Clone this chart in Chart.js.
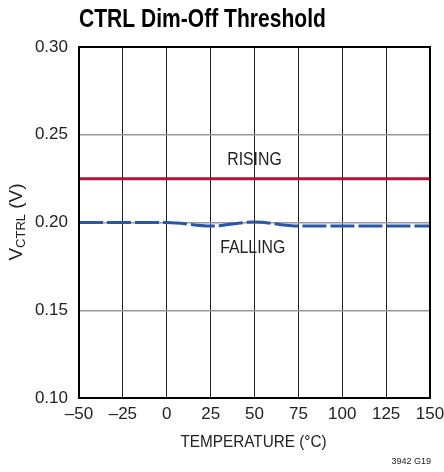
<!DOCTYPE html>
<html>
<head>
<meta charset="utf-8">
<script src="https://cdn.jsdelivr.net/npm/chart.js@4"></script>
<style>
  html, body { margin: 0; padding: 0; background: #fff; }
  #wrap { width: 444px; height: 472px; position: relative; }
</style>
</head>
<body>
<div id="wrap"><canvas id="myChart" width="444" height="472"></canvas></div>
<script>
// temperatures (°C) and thresholds (V)
const temps = [-50, -25, 0, 25, 50, 75, 100, 125, 150];
const rising = [0.225, 0.225, 0.225, 0.225, 0.225, 0.225, 0.225, 0.225, 0.225];
const falling = [0.200, 0.200, 0.200, 0.198, 0.2003, 0.198, 0.198, 0.198, 0.198];
const xTicks = [-50, -25, 0, 25, 50, 75, 100, 125, 150];
const yTicks = [0.10, 0.15, 0.20, 0.25, 0.30];

const FONT = "'Liberation Sans', Arial, sans-serif";

const toPts = (ys) => temps.map((t, i) => ({x: t, y: ys[i]}));

// text squeezed horizontally to look like the condensed face of the original
function narrowText(ctx, text, x, y, font, sx) {
    ctx.save();
    ctx.font = font;
    ctx.translate(x, y);
    ctx.scale(sx, 1);
    ctx.fillText(text, 0, 0);
    ctx.restore();
}

// draws title, axis titles, curve labels and the frame
const extras = {
    id: 'extras',
    afterDraw(chart) {
        const ctx = chart.ctx;
        const a = chart.chartArea;
        const xs = chart.scales.x, ys = chart.scales.y;
        ctx.save();
        // frame
        ctx.strokeStyle = '#000';
        ctx.lineWidth = 2;
        ctx.strokeRect(a.left, a.top, a.right - a.left, a.bottom - a.top);

        ctx.fillStyle = '#000';
        ctx.textBaseline = 'alphabetic';
        ctx.textAlign = 'left';
        narrowText(ctx, 'CTRL Dim-Off Threshold', 79, 27, 'bold 26px ' + FONT, 0.81);

        ctx.fillStyle = '#222';
        ctx.textAlign = 'center';
        ctx.textBaseline = 'middle';
        narrowText(ctx, 'RISING', xs.getPixelForValue(50), ys.getPixelForValue(0.2356), '18px ' + FONT, 0.88);
        narrowText(ctx, 'FALLING', xs.getPixelForValue(49), ys.getPixelForValue(0.1852), '18px ' + FONT, 0.88);

        ctx.textBaseline = 'alphabetic';
        narrowText(ctx, 'TEMPERATURE (°C)', (a.left + a.right) / 2 - 1, 447, '17px ' + FONT, 0.9);

        ctx.textAlign = 'right';
        narrowText(ctx, '3942 G19', 431, 464, '9px ' + FONT, 1);

        // y axis title with subscript
        ctx.translate(22, 222);
        ctx.rotate(-Math.PI / 2);
        const big = '19px ' + FONT, small = '13px ' + FONT;
        ctx.font = big; const w1 = ctx.measureText('V').width;
        ctx.font = small; const w2 = ctx.measureText('CTRL').width;
        ctx.font = big; const w3 = ctx.measureText(' (V)').width;
        let x0 = -(w1 + w2 + w3) / 2;
        ctx.textAlign = 'left';
        ctx.font = big; ctx.fillText('V', x0, 0);
        ctx.font = small; ctx.fillText('CTRL', x0 + w1, 3);
        ctx.font = big; ctx.fillText(' (V)', x0 + w1 + w2, 0);
        ctx.restore();
    }
};

const ctx = document.getElementById('myChart');
const chart = new Chart(ctx, {
    type: 'line',
    data: {
        datasets: [{
            label: 'RISING',
            data: toPts(rising),
            borderColor: '#b3123a',
            borderWidth: 3,
            pointRadius: 0,
            tension: 0
        }, {
            label: 'FALLING',
            data: toPts(falling),
            borderColor: '#2a56a8',
            borderWidth: 3,
            borderDash: [24, 4],
            pointRadius: 0,
            cubicInterpolationMode: 'monotone',
            tension: 0.3
        }]
    },
    options: {
        responsive: false,
        animation: false,
        layout: { padding: { top: 47, right: 14, left: 0, bottom: 0 } },
        plugins: { legend: { display: false }, tooltip: { enabled: false } },
        scales: {
            x: {
                type: 'linear',
                min: -50, max: 150,
                afterBuildTicks: (s) => { s.ticks = xTicks.map(v => ({value: v})); },
                afterFit: (s) => { s.height = 74; s.paddingLeft = 0; s.paddingRight = 0; },
                ticks: {
                    color: '#222',
                    padding: 6,
                    maxRotation: 0,
                    autoSkip: false,
                    font: { family: FONT, size: 17 },
                    callback: (v) => String(v).replace('-', '–')
                },
                grid: { color: '#222', lineWidth: 1, drawTicks: false },
                border: { display: false }
            },
            y: {
                min: 0.10, max: 0.30,
                afterBuildTicks: (s) => { s.ticks = yTicks.map(v => ({value: v})); },
                afterFit: (s) => { s.width = 79; s.paddingTop = 0; s.paddingBottom = 0; },
                ticks: {
                    color: '#222',
                    padding: 11,
                    font: { family: FONT, size: 17 },
                    callback: (v) => v.toFixed(2)
                },
                grid: { color: '#999', lineWidth: 1.5, drawTicks: false },
                border: { display: false }
            }
        }
    },
    plugins: [extras]
});
</script>
</body>
</html>
